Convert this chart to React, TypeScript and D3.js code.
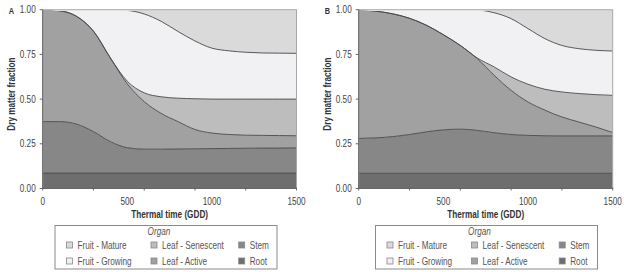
import React from "react";
import * as d3 from "d3";

// ---------- data ----------
const thermalTime = [0, 100, 200, 300, 400, 500, 600, 700, 800, 900, 1000, 1100, 1200, 1300, 1400, 1500];
const organs = ["Root", "Stem", "Leaf - Active", "Leaf - Senescent", "Fruit - Growing", "Fruit - Mature"];

// Panel A: dry matter fraction per organ
const rootA = [0.086, 0.086, 0.086, 0.086, 0.086, 0.086, 0.086, 0.086, 0.086, 0.086, 0.086, 0.086, 0.086, 0.086, 0.086, 0.086];
const stemA = [0.288, 0.288, 0.274, 0.232, 0.176, 0.142, 0.134, 0.134, 0.135, 0.136, 0.137, 0.138, 0.139, 0.14, 0.14, 0.141];
const leafActiveA = [0.626, 0.62, 0.603, 0.562, 0.468, 0.357, 0.266, 0.2, 0.153, 0.108, 0.087, 0.078, 0.073, 0.071, 0.07, 0.068];
const leafSenescentA = [0, 0, 0, 0, 0, 0.015, 0.049, 0.093, 0.131, 0.172, 0.19, 0.198, 0.202, 0.203, 0.204, 0.205];
const fruitGrowingA = [0, 0.006, 0.037, 0.12, 0.27, 0.396, 0.441, 0.422, 0.373, 0.323, 0.285, 0.27, 0.262, 0.258, 0.257, 0.256];
const fruitMatureA = [0, 0, 0, 0, 0, 0.004, 0.024, 0.065, 0.122, 0.175, 0.215, 0.23, 0.238, 0.242, 0.243, 0.244];

// Panel B
const rootB = [0.085, 0.085, 0.085, 0.085, 0.085, 0.085, 0.085, 0.085, 0.085, 0.085, 0.085, 0.085, 0.085, 0.085, 0.085, 0.085];
const stemB = [0.195, 0.198, 0.205, 0.217, 0.232, 0.243, 0.247, 0.24, 0.227, 0.217, 0.212, 0.21, 0.209, 0.209, 0.209, 0.209];
const leafActiveB = [0.72, 0.709, 0.687, 0.65, 0.596, 0.532, 0.468, 0.401, 0.321, 0.247, 0.187, 0.143, 0.106, 0.078, 0.05, 0.019];
const leafSenescentB = [0, 0, 0, 0, 0, 0, 0, 0.004, 0.047, 0.075, 0.099, 0.117, 0.14, 0.159, 0.181, 0.208];
const fruitGrowingB = [0, 0.008, 0.023, 0.048, 0.087, 0.14, 0.2, 0.268, 0.303, 0.326, 0.311, 0.283, 0.26, 0.251, 0.248, 0.248];
const fruitMatureB = [0, 0, 0, 0, 0, 0, 0, 0.002, 0.017, 0.05, 0.106, 0.162, 0.2, 0.218, 0.227, 0.231];

const yTicks = [0, 0.25, 0.5, 0.75, 1];
const xTickLabels = [0, 500, 1000, 1500];
const xTickMarks = [0, 300, 600, 900, 1200, 1500];

const legendColumns = [
  ["Fruit - Mature", "Fruit - Growing"],
  ["Leaf - Senescent", "Leaf - Active"],
  ["Stem", "Root"],
];

const organColors: Record<string, string> = {
  "Root": "#6e6e6e",
  "Stem": "#878787",
  "Leaf - Active": "#a1a1a1",
  "Leaf - Senescent": "#bdbdbd",
  "Fruit - Growing": "#f1f1f3",
  "Fruit - Mature": "#dadada",
};

const FONT = "'Liberation Sans', Arial, sans-serif";
const NARROW = 0.82;

type TProps = {
  x: number;
  y: number;
  anchor?: "start" | "middle" | "end";
  rotate?: number;
  size?: number;
  weight?: string;
  italic?: boolean;
  fill?: string;
  dy?: string;
  children: React.ReactNode;
};

function T({ x, y, anchor = "start", rotate = 0, size = 10, weight = "normal", italic = false, fill = "#444", dy, children }: TProps) {
  return (
    <text
      transform={`translate(${x},${y}) rotate(${rotate}) scale(${NARROW},1)`}
      textAnchor={anchor}
      fontSize={size}
      fontWeight={weight}
      fontStyle={italic ? "italic" : "normal"}
      fill={fill}
      fontFamily={FONT}
      dy={dy}
    >
      {children}
    </text>
  );
}

type PanelProps = {
  id: string;
  label: string;
  series: number[][];
  left: number;
  right: number;
  top: number;
  bottom: number;
  legendDx: number;
};

function Panel({ id, label, series, left, right, top, bottom, legendDx }: PanelProps) {
  const x = d3.scaleLinear().domain([0, 1500]).range([left, right]);
  const y = d3.scaleLinear().domain([0, 1]).range([bottom, top]);

  const rows = thermalTime.map((t, i) => {
    const r: any = { t };
    organs.forEach((o, k) => (r[o] = series[k][i]));
    return r;
  });
  const stacked = d3.stack<any>().keys(organs)(rows);

  const area = d3
    .area<any>()
    .x((d) => x(d.data.t))
    .y0((d) => y(d[0]))
    .y1((d) => y(d[1]))
    .curve(d3.curveMonotoneX);
  const line = d3
    .line<any>()
    .x((d) => x(d.data.t))
    .y((d) => y(d[1]))
    .curve(d3.curveMonotoneX);

  const clipId = `clip-${id}`;
  const cx = (left + right) / 2;
  const cy = (top + bottom) / 2;

  return (
    <g>
      <defs>
        <clipPath id={clipId}>
          <rect x={left} y={top + 1.2} width={right - left} height={bottom - top - 1.2} />
        </clipPath>
      </defs>
      {stacked.map((s) => (
        <path key={s.key} d={area(s as any) || ""} fill={organColors[s.key]} stroke="none" />
      ))}
      <g clipPath={`url(#${clipId})`}>
        {stacked.map((s) => (
          <path key={s.key} d={line(s as any) || ""} fill="none" stroke="#474747" strokeWidth={0.9} />
        ))}
      </g>
      <rect x={left} y={top} width={right - left} height={bottom - top} fill="none" stroke="#a8a8a8" strokeWidth={1} />
      <line x1={left} x2={left} y1={top} y2={bottom} stroke="#666" strokeWidth={1} />
      <line x1={left} x2={right} y1={bottom} y2={bottom} stroke="#666" strokeWidth={1} />
      {yTicks.map((v) => (
        <g key={v}>
          <line x1={left - 3} x2={left} y1={y(v)} y2={y(v)} stroke="#666" />
          <T x={left - 7} y={y(v)} dy="0.35em" anchor="end">
            {d3.format(".2f")(v)}
          </T>
        </g>
      ))}
      {xTickMarks.map((v) => (
        <line key={v} x1={x(v)} x2={x(v)} y1={bottom - 1} y2={bottom + 2} stroke="#666" />
      ))}
      {xTickLabels.map((v) => (
        <T key={v} x={x(v)} y={205} anchor="middle">
          {v}
        </T>
      ))}
      <T x={cx} y={218} anchor="middle" weight="bold" fill="#333">
        Thermal time (GDD)
      </T>
      <T x={left - 31} y={cy - 5} rotate={-90} anchor="middle" dy="0.35em" weight="bold" fill="#333">
        Dry matter fraction
      </T>
      <T x={left - 34} y={top + 1} dy="0.35em" size={9} weight="bold" fill="#333">
        {label}
      </T>
      <g transform={`translate(${legendDx},0)`}>
        <rect x={55} y={225.5} width={222} height={43.5} fill="#fff" stroke="#8a8a8a" strokeWidth={1} />
        <T x={159} y={235} anchor="middle" italic fill="#555">
          Organ
        </T>
        {legendColumns.map((col, ci) =>
          col.map((name, ri) => {
            const sx = [66.5, 151, 238.7][ci];
            const ty = [248.5, 264.5][ri];
            return (
              <g key={name}>
                <rect x={sx} y={ty - 6.5} width={6} height={6} fill={organColors[name]} stroke="#888" strokeWidth={0.8} />
                <T x={sx + 11} y={ty} fill="#555">
                  {name}
                </T>
              </g>
            );
          })
        )}
      </g>
    </g>
  );
}

export default function App() {
  const seriesA = [rootA, stemA, leafActiveA, leafSenescentA, fruitGrowingA, fruitMatureA];
  const seriesB = [rootB, stemB, leafActiveB, leafSenescentB, fruitGrowingB, fruitMatureB];
  return (
    <svg
      width={624}
      height={272}
      style={{ position: "absolute", left: 0, top: 0, background: "#fff" }}
    >
      <rect x={0} y={0} width={624} height={272} fill="#fff" />
      <Panel id="A" label="A" series={seriesA} left={42.7} right={296.5} top={9.7} bottom={188.5} legendDx={0} />
      <Panel id="B" label="B" series={seriesB} left={358.7} right={612.7} top={9.7} bottom={188.5} legendDx={320.5} />
    </svg>
  );
}
